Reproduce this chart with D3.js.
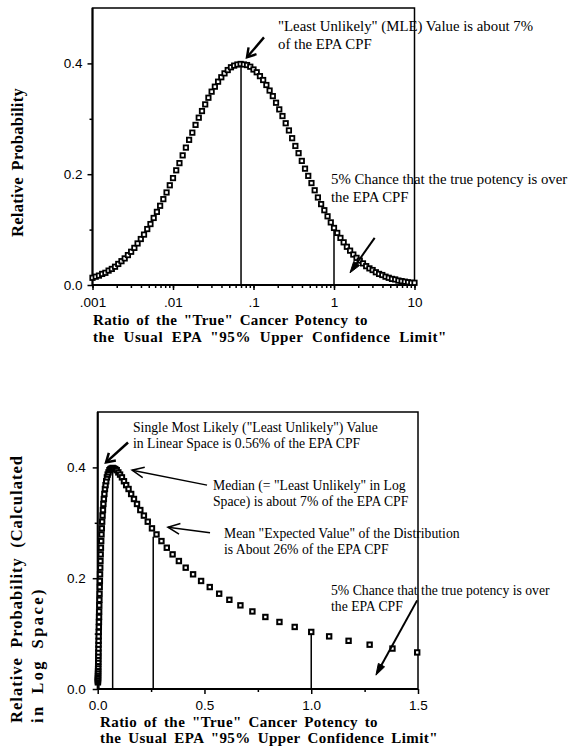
<!DOCTYPE html>
<html>
<head>
<meta charset="utf-8">
<script src="https://cdnjs.cloudflare.com/ajax/libs/d3/7.8.5/d3.min.js"></script>
<style>
body { margin: 0; background: #fff; }
svg { display: block; background: #fff; }
.axis text { font-family: "Liberation Sans", Arial, sans-serif; font-size: 13.5px; fill: #000; }
.axis line { stroke: #000; stroke-width: 1.5px; }
.axis path { display: none; }
.title { font-family: "Liberation Serif", "Times New Roman", serif; font-weight: bold; font-size: 15px; }
.note { font-family: "Liberation Serif", "Times New Roman", serif; fill: #000; }
</style>
</head>
<body>
<svg width="573" height="749"></svg>
<script>
// upper chart: log10 of the ratio and the relative probability
var topLog = [-3.00,-2.96,-2.92,-2.88,-2.84,-2.80,-2.76,-2.72,-2.68,-2.64,
  -2.60,-2.56,-2.52,-2.48,-2.44,-2.40,-2.36,-2.32,-2.28,-2.24,
  -2.20,-2.16,-2.12,-2.08,-2.04,-2.00,-1.96,-1.92,-1.88,-1.84,
  -1.80,-1.76,-1.72,-1.68,-1.64,-1.60,-1.56,-1.52,-1.48,-1.44,
  -1.40,-1.36,-1.32,-1.28,-1.24,-1.20,-1.16,-1.12,-1.08,-1.04,
  -1.00,-0.96,-0.92,-0.88,-0.84,-0.80,-0.76,-0.72,-0.68,-0.64,
  -0.60,-0.56,-0.52,-0.48,-0.44,-0.40,-0.36,-0.32,-0.28,-0.24,
  -0.20,-0.16,-0.12,-0.08,-0.04,0.00,0.04,0.08,0.12,0.16,
  0.20,0.24,0.28,0.32,0.36,0.40,0.44,0.48,0.52,0.56,
  0.60,0.64,0.68,0.72,0.76,0.80,0.84,0.88,0.92,0.96,1.00]
var topProb = [0.013,0.015,0.017,0.020,0.022,0.026,0.029,0.033,0.038,0.043,
  0.048,0.054,0.060,0.067,0.075,0.083,0.091,0.101,0.110,0.121,
  0.132,0.143,0.155,0.167,0.180,0.193,0.207,0.220,0.234,0.248,
  0.262,0.275,0.289,0.302,0.314,0.326,0.338,0.349,0.358,0.367,
  0.375,0.382,0.388,0.393,0.396,0.398,0.399,0.398,0.397,0.394,
  0.389,0.384,0.377,0.370,0.361,0.351,0.341,0.329,0.317,0.305,
  0.292,0.279,0.265,0.251,0.238,0.224,0.210,0.197,0.184,0.171,
  0.158,0.146,0.135,0.124,0.113,0.103,0.094,0.085,0.077,0.069,
  0.062,0.055,0.049,0.044,0.039,0.034,0.030,0.027,0.023,0.020,
  0.018,0.015,0.013,0.011,0.010,0.008,0.007,0.006,0.005,0.004,0.004]

// lower chart: same distribution against a linear ratio
var lowLog = [-3.010,-2.975,-2.940,-2.905,-2.870,-2.835,-2.800,-2.765,-2.730,-2.695,
  -2.660,-2.625,-2.590,-2.555,-2.520,-2.485,-2.450,-2.415,-2.380,-2.345,
  -2.310,-2.275,-2.240,-2.205,-2.170,-2.135,-2.100,-2.065,-2.030,-1.995,
  -1.960,-1.925,-1.890,-1.855,-1.820,-1.785,-1.750,-1.715,-1.680,-1.645,
  -1.610,-1.575,-1.540,-1.505,-1.470,-1.435,-1.400,-1.365,-1.330,-1.295,
  -1.260,-1.225,-1.190,-1.155,-1.120,-1.085,-1.050,-1.015,-0.980,-0.945,
  -0.910,-0.875,-0.840,-0.805,-0.770,-0.735,-0.700,-0.665,-0.630,-0.595,
  -0.560,-0.525,-0.490,-0.455,-0.420,-0.385,-0.350,-0.315,-0.280,-0.245,
  -0.210,-0.175,-0.140,-0.105,-0.070,-0.035,0.000,0.035,0.070,0.105,
  0.140,0.175]
var lowProb = [0.012,0.014,0.016,0.018,0.020,0.023,0.026,0.029,0.032,0.036,
  0.040,0.045,0.049,0.055,0.060,0.066,0.073,0.080,0.087,0.095,
  0.103,0.112,0.121,0.130,0.140,0.151,0.161,0.172,0.184,0.195,
  0.207,0.219,0.231,0.243,0.255,0.267,0.279,0.290,0.302,0.313,
  0.323,0.334,0.343,0.352,0.361,0.368,0.375,0.382,0.387,0.391,
  0.395,0.397,0.398,0.399,0.398,0.397,0.395,0.391,0.387,0.382,
  0.375,0.368,0.361,0.352,0.343,0.334,0.323,0.313,0.302,0.290,
  0.279,0.267,0.255,0.243,0.231,0.219,0.207,0.195,0.184,0.172,
  0.161,0.151,0.140,0.130,0.121,0.112,0.103,0.095,0.087,0.080,
  0.073,0.066]

// drop lines
var topLines = [0.07, 1]
var topLineProb = [0.399, 0.103]
var lowLines = [0.0056, 0.07, 0.26, 1]
var lowLineProb = [0.118, 0.399, 0.275, 0.103]

// ticks
var topTicks = [0.001, 0.01, 0.1, 1, 10]
var topTickLabels = [".001", ".01", ".1", "1", "10"]
var lowTicks = [0, 0.5, 1, 1.5]
var lowTickLabels = ["0.0", "0.5", "1.0", "1.5"]
var lowMinor = [0.25, 0.75, 1.25]
var yTicks = [0, 0.2, 0.4]
var yTickLabels = ["0.0", "0.2", "0.4"]
var yMinor = [0.1, 0.3]

var xTitle = ["Ratio of the \"True\" Cancer Potency to", "the Usual EPA \"95% Upper Confidence Limit\""]

// notes
var topNotes = [["\"Least Unlikely\" (MLE) Value is about 7%", "of the EPA CPF"],
  ["5% Chance that the true potency is over", "the EPA CPF"]]
var lowNotes = [["Single Most Likely (\"Least Unlikely\") Value", "in Linear Space is 0.56% of the EPA CPF"],
  ["Median (= \"Least Unlikely\" in Log", "Space) is about 7% of the EPA CPF"],
  ["Mean \"Expected Value\" of the Distribution", "is About 26% of the EPA CPF"],
  ["5% Chance that the true potency is over", "the EPA CPF"]]
// arrows: [tail x, tail y, tip x, tip y] in data units
var topArrows = [[0.135, 0.447, 0.083, 0.411], [3.2, 0.085, 1.58, 0.022]]
var lowArrows = [[0.142, 0.445, 0.039, 0.409], [0.512, 0.368, 0.161, 0.395],
  [0.526, 0.282, 0.329, 0.292], [1.496, 0.160, 1.303, 0.025]]

var svg = d3.select("svg")

var arrow = function(g, x1, y1, x2, y2, w, len, ang, filled) {
  var a = Math.atan2(y2 - y1, x2 - x1)
  var pa = [x2 - len * Math.cos(a - ang), y2 - len * Math.sin(a - ang)]
  var pb = [x2 - len * Math.cos(a + ang), y2 - len * Math.sin(a + ang)]
  g.append("line")
    .attr("x1", x1).attr("y1", y1)
    .attr("x2", filled ? x2 - len * 0.7 * Math.cos(a) : x2)
    .attr("y2", filled ? y2 - len * 0.7 * Math.sin(a) : y2)
    .attr("stroke", "#000").attr("stroke-width", w)
  g.append("path")
    .attr("d", "M" + pa + "L" + [x2, y2] + "L" + pb + (filled ? "Z" : ""))
    .attr("fill", filled ? "#000" : "none")
    .attr("stroke", "#000")
    .attr("stroke-width", filled ? 1 : w)
    .attr("stroke-linejoin", "miter")
}

var notes = function(g, list, xs, ys, size, gap) {
  list.forEach(function(lines, i) {
    lines.forEach(function(t, j) {
      g.append("text").attr("class", "note")
        .attr("x", xs[i]).attr("y", ys[i] + j * gap)
        .style("font-size", size + "px")
        .text(t)
    })
  })
}

// bold titles: spread to the width seen in the picture, part between letters, part between words
var boldLine = function(g, t, x, y, len, rotate, size, share) {
  var txt = g.append("text").attr("class", "title")
    .attr("x", x).attr("y", y)
    .attr("transform", rotate ? "rotate(-90," + x + "," + y + ")" : null)
    .style("font-size", size + "px")
    .text(t)
  var extra = len - txt.node().getComputedTextLength()
  var gaps = t.split(" ").length - 1
  if (extra > 0) {
    txt.style("letter-spacing", (extra * share / t.length) + "px")
      .style("word-spacing", (extra * (1 - share) / Math.max(gaps, 1)) + "px")
  }
}

var square = function(g, pts, xs, ys, s, w) {
  g.selectAll("rect")
    .data(pts)
    .enter()
    .append("rect")
    .attr("x", function(p) { return xs(p.x) - s / 2 })
    .attr("y", function(p) { return ys(p.y) - s / 2 })
    .attr("width", s)
    .attr("height", s)
    .attr("fill", "#fff")
    .attr("stroke", "#000")
    .attr("stroke-width", w)
}

// ---------- upper chart ----------
var topPts = topLog.map(function(l, i) { return {x: Math.pow(10, l), y: topProb[i]} })
var xTop = d3.scaleLog().domain([0.001, 10]).range([92.5, 414.5])
var yTop = d3.scaleLinear().domain([0, 0.5]).range([285, 8])
var g1 = svg.append("g")

g1.append("g").attr("class", "axis")
  .attr("transform", "translate(0,285)")
  .call(d3.axisBottom(xTop).tickValues(xTop.ticks()).tickFormat("").tickSize(3).tickSizeOuter(0))
g1.append("g").attr("class", "axis")
  .attr("transform", "translate(0,285)")
  .call(d3.axisBottom(xTop).tickValues(topTicks)
    .tickFormat(function(d, i) { return topTickLabels[i] })
    .tickSize(5).tickPadding(7).tickSizeOuter(0))
g1.append("g").attr("class", "axis")
  .attr("transform", "translate(92.5,0)")
  .call(d3.axisLeft(yTop).tickValues(yMinor).tickFormat("").tickSize(3).tickSizeOuter(0))
g1.append("g").attr("class", "axis")
  .attr("transform", "translate(92.5,0)")
  .call(d3.axisLeft(yTop).tickValues(yTicks)
    .tickFormat(function(d, i) { return yTickLabels[i] })
    .tickSize(5).tickPadding(5).tickSizeOuter(0))

g1.selectAll(".drop")
  .data(topLines)
  .enter()
  .append("line")
  .attr("x1", function(d) { return xTop(d) })
  .attr("x2", function(d) { return xTop(d) })
  .attr("y1", yTop(0))
  .attr("y2", function(d, i) { return yTop(topLineProb[i]) })
  .attr("stroke", "#000").attr("stroke-width", 1.5)

g1.append("rect")
  .attr("x", xTop(0.001)).attr("y", yTop(0.5))
  .attr("width", xTop(10) - xTop(0.001)).attr("height", yTop(0) - yTop(0.5))
  .attr("fill", "none").attr("stroke", "#000").attr("stroke-width", 1.5)
g1.append("path")
  .attr("d", "M" + [xTop(0.001), yTop(0.5)] + "V" + yTop(0) + "H" + xTop(10))
  .attr("fill", "none").attr("stroke", "#000").attr("stroke-width", 2)

square(g1.append("g"), topPts, xTop, yTop, 4.4, 1.8)

boldLine(g1, xTitle[0], 93, 325, 275, false, 15, 0.5)
boldLine(g1, xTitle[1], 93, 342, 354, false, 15, 0.5)
boldLine(g1, "Relative Probability", 23, 237, 149, true, 16.5, 0.7)

notes(g1, topNotes, [278, 331], [31, 184], 14.8, 18)
var ta = topArrows[0]
arrow(g1, xTop(ta[0]), yTop(ta[1]), xTop(ta[2]), yTop(ta[3]), 2.4, 10, 0.55, false)
ta = topArrows[1]
arrow(g1, xTop(ta[0]), yTop(ta[1]), xTop(ta[2]), yTop(ta[3]), 2, 12, 0.3, true)

// ---------- lower chart ----------
var lowPts = lowLog.map(function(l, i) { return {x: Math.pow(10, l), y: lowProb[i]} })
var xLow = d3.scaleLinear().domain([0, 1.5]).range([97.7, 418])
var yLow = d3.scaleLinear().domain([0, 0.5]).range([689, 412])
var g2 = svg.append("g")

g2.append("g").attr("class", "axis")
  .attr("transform", "translate(0,689)")
  .call(d3.axisBottom(xLow).tickValues(lowMinor).tickFormat("").tickSize(3).tickSizeOuter(0))
g2.append("g").attr("class", "axis")
  .attr("transform", "translate(0,689)")
  .call(d3.axisBottom(xLow).tickValues(lowTicks)
    .tickFormat(function(d, i) { return lowTickLabels[i] })
    .tickSize(5).tickPadding(6).tickSizeOuter(0))
g2.append("g").attr("class", "axis")
  .attr("transform", "translate(97.7,0)")
  .call(d3.axisLeft(yLow).tickValues(yMinor).tickFormat("").tickSize(3).tickSizeOuter(0))
g2.append("g").attr("class", "axis")
  .attr("transform", "translate(97.7,0)")
  .call(d3.axisLeft(yLow).tickValues(yTicks)
    .tickFormat(function(d, i) { return yTickLabels[i] })
    .tickSize(5).tickPadding(7).tickSizeOuter(0))

g2.selectAll(".drop")
  .data(lowLines)
  .enter()
  .append("line")
  .attr("x1", function(d) { return xLow(d) })
  .attr("x2", function(d) { return xLow(d) })
  .attr("y1", yLow(0))
  .attr("y2", function(d, i) { return yLow(lowLineProb[i]) })
  .attr("stroke", "#000").attr("stroke-width", 1.5)

g2.append("rect")
  .attr("x", xLow(0)).attr("y", yLow(0.5))
  .attr("width", xLow(1.5) - xLow(0)).attr("height", yLow(0) - yLow(0.5))
  .attr("fill", "none").attr("stroke", "#000").attr("stroke-width", 1.5)
g2.append("path")
  .attr("d", "M" + [xLow(0), yLow(0.5)] + "V" + yLow(0) + "H" + xLow(1.5))
  .attr("fill", "none").attr("stroke", "#000").attr("stroke-width", 2)

square(g2.append("g"), lowPts, xLow, yLow, 4.4, 2)

boldLine(g2, xTitle[0], 100, 727, 278, false, 15, 0.5)
boldLine(g2, xTitle[1], 100, 743, 338, false, 15, 0.5)
boldLine(g2, "Relative Probability (Calculated", 22, 723, 268, true, 16.5, 0.8)
boldLine(g2, "in Log Space)", 43, 723, 136, true, 16.5, 0.8)

notes(g2, lowNotes, [133, 213, 224, 331], [432, 490, 538, 595], 13.7, 15.5)
var la = lowArrows[0]
arrow(g2, xLow(la[0]), yLow(la[1]), xLow(la[2]), yLow(la[3]), 2.5, 10, 0.55, false)
la = lowArrows[1]
arrow(g2, xLow(la[0]), yLow(la[1]), xLow(la[2]), yLow(la[3]), 1.5, 13, 0.42, false)
la = lowArrows[2]
arrow(g2, xLow(la[0]), yLow(la[1]), xLow(la[2]), yLow(la[3]), 1.5, 13, 0.42, false)
la = lowArrows[3]
arrow(g2, xLow(la[0]), yLow(la[1]), xLow(la[2]), yLow(la[3]), 2, 12, 0.3, true)
</script>
</body>
</html>
